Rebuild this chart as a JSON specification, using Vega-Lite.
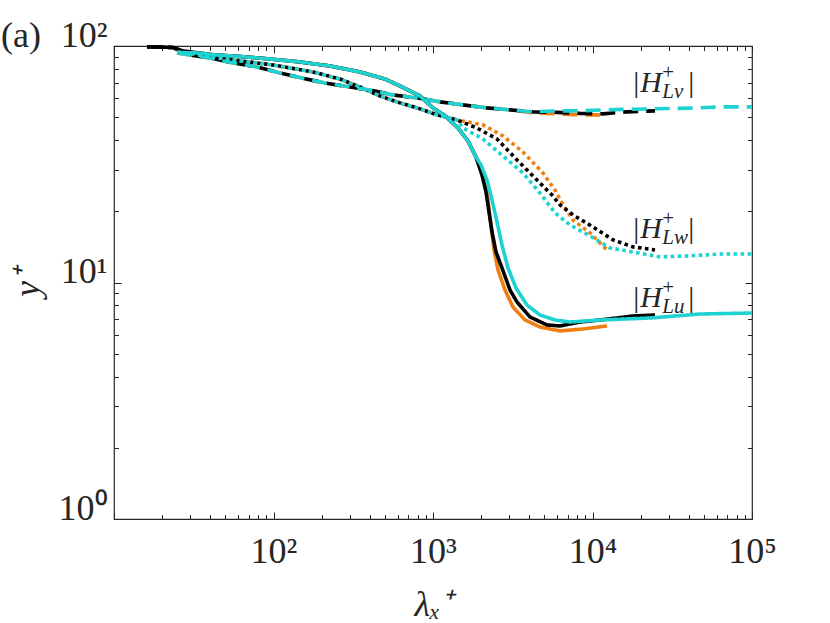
{
  "$schema": "https://vega.github.io/schema/vega-lite/v6.json",
  "width": 638,
  "height": 473,
  "autosize": {"type": "none"},
  "padding": {"left": 114, "top": 46, "right": 78, "bottom": 104},
  "title": {"text": "(a)", "anchor": "start", "frame": "group", "orient": "top", "baseline": "alphabetic", "offset": -66, "dx": -113, "font": "Liberation Serif", "fontSize": 36, "fontWeight": "normal", "color": "#262626"},
  "datasets": {
    "curves": [
      {"run": "orange", "comp": "u", "lam": 24.83, "yp": 93.87},
      {"run": "orange", "comp": "u", "lam": 34.61, "yp": 93.41},
      {"run": "orange", "comp": "u", "lam": 39.99, "yp": 92.06},
      {"run": "orange", "comp": "u", "lam": 61.66, "yp": 90.29},
      {"run": "orange", "comp": "u", "lam": 95.07, "yp": 88.13},
      {"run": "orange", "comp": "u", "lam": 146.6, "yp": 85.6},
      {"run": "orange", "comp": "u", "lam": 226.1, "yp": 82.33},
      {"run": "orange", "comp": "u", "lam": 348.6, "yp": 77.67},
      {"run": "orange", "comp": "u", "lam": 500, "yp": 72.5},
      {"run": "orange", "comp": "u", "lam": 621.1, "yp": 67.74},
      {"run": "orange", "comp": "u", "lam": 828.9, "yp": 61.46},
      {"run": "orange", "comp": "u", "lam": 1000, "yp": 54.76},
      {"run": "orange", "comp": "u", "lam": 1189, "yp": 50.66},
      {"run": "orange", "comp": "u", "lam": 1435, "yp": 44.98},
      {"run": "orange", "comp": "u", "lam": 1658, "yp": 39.67},
      {"run": "orange", "comp": "u", "lam": 1860, "yp": 33.93},
      {"run": "orange", "comp": "u", "lam": 1971, "yp": 31.4},
      {"run": "orange", "comp": "u", "lam": 2118, "yp": 27.13},
      {"run": "orange", "comp": "u", "lam": 2212, "yp": 22.33},
      {"run": "orange", "comp": "u", "lam": 2310, "yp": 17.51},
      {"run": "orange", "comp": "u", "lam": 2413, "yp": 13.73},
      {"run": "orange", "comp": "u", "lam": 2556, "yp": 11.29},
      {"run": "orange", "comp": "u", "lam": 2828, "yp": 9.296},
      {"run": "orange", "comp": "u", "lam": 3174, "yp": 7.873},
      {"run": "orange", "comp": "u", "lam": 3775, "yp": 6.942},
      {"run": "orange", "comp": "u", "lam": 4687, "yp": 6.486},
      {"run": "orange", "comp": "u", "lam": 6257, "yp": 6.239},
      {"run": "orange", "comp": "u", "lam": 8718, "yp": 6.361},
      {"run": "orange", "comp": "u", "lam": 12327, "yp": 6.55},

      {"run": "orange", "comp": "v", "lam": 24.83, "yp": 93.41},
      {"run": "orange", "comp": "v", "lam": 33.15, "yp": 90.73},
      {"run": "orange", "comp": "v", "lam": 39.99, "yp": 88.99},
      {"run": "orange", "comp": "v", "lam": 55.74, "yp": 84.77},
      {"run": "orange", "comp": "v", "lam": 78.81, "yp": 81.55},
      {"run": "orange", "comp": "v", "lam": 109.85, "yp": 76.92},
      {"run": "orange", "comp": "v", "lam": 150.9, "yp": 73.21},
      {"run": "orange", "comp": "v", "lam": 210.3, "yp": 69.74},
      {"run": "orange", "comp": "v", "lam": 301.8, "yp": 67.09},
      {"run": "orange", "comp": "v", "lam": 432.9, "yp": 64.52},
      {"run": "orange", "comp": "v", "lam": 561.4, "yp": 62.06},
      {"run": "orange", "comp": "v", "lam": 805.4, "yp": 60.28},
      {"run": "orange", "comp": "v", "lam": 1106, "yp": 58.03},
      {"run": "orange", "comp": "v", "lam": 1542, "yp": 56.37},
      {"run": "orange", "comp": "v", "lam": 2181, "yp": 54.76},
      {"run": "orange", "comp": "v", "lam": 3040, "yp": 53.71},
      {"run": "orange", "comp": "v", "lam": 4236, "yp": 52.16},
      {"run": "orange", "comp": "v", "lam": 5991, "yp": 51.66},
      {"run": "orange", "comp": "v", "lam": 8348, "yp": 51.16},
      {"run": "orange", "comp": "v", "lam": 11143, "yp": 51.16},

      {"run": "orange", "comp": "w", "lam": 24.83, "yp": 94.33},
      {"run": "orange", "comp": "w", "lam": 28.69, "yp": 93.41},
      {"run": "orange", "comp": "w", "lam": 39.99, "yp": 89.85},
      {"run": "orange", "comp": "w", "lam": 55.74, "yp": 87.28},
      {"run": "orange", "comp": "w", "lam": 99.3, "yp": 83.13},
      {"run": "orange", "comp": "w", "lam": 176.9, "yp": 77.67},
      {"run": "orange", "comp": "w", "lam": 261.2, "yp": 72.5},
      {"run": "orange", "comp": "w", "lam": 348.6, "yp": 67.09},
      {"run": "orange", "comp": "w", "lam": 465.3, "yp": 61.46},
      {"run": "orange", "comp": "w", "lam": 621.1, "yp": 57.47},
      {"run": "orange", "comp": "w", "lam": 828.9, "yp": 54.23},
      {"run": "orange", "comp": "w", "lam": 1059, "yp": 51.16},
      {"run": "orange", "comp": "w", "lam": 1414, "yp": 48.69},
      {"run": "orange", "comp": "w", "lam": 2058, "yp": 46.38},
      {"run": "orange", "comp": "w", "lam": 2747, "yp": 41.66},
      {"run": "orange", "comp": "w", "lam": 3667, "yp": 35.62},
      {"run": "orange", "comp": "w", "lam": 4894, "yp": 29.04},
      {"run": "orange", "comp": "w", "lam": 5820, "yp": 24.6},
      {"run": "orange", "comp": "w", "lam": 6440, "yp": 21.68},
      {"run": "orange", "comp": "w", "lam": 7546, "yp": 18.38},
      {"run": "orange", "comp": "w", "lam": 9646, "yp": 16.2},
      {"run": "orange", "comp": "w", "lam": 12327, "yp": 13.73},

      {"run": "black", "comp": "u", "lam": 16.1, "yp": 99.32},
      {"run": "black", "comp": "u", "lam": 23.44, "yp": 98.55},
      {"run": "black", "comp": "u", "lam": 27.08, "yp": 95.25},
      {"run": "black", "comp": "u", "lam": 34.61, "yp": 93.41},
      {"run": "black", "comp": "u", "lam": 39.99, "yp": 92.06},
      {"run": "black", "comp": "u", "lam": 61.66, "yp": 90.29},
      {"run": "black", "comp": "u", "lam": 95.07, "yp": 88.13},
      {"run": "black", "comp": "u", "lam": 146.6, "yp": 85.6},
      {"run": "black", "comp": "u", "lam": 226.1, "yp": 82.33},
      {"run": "black", "comp": "u", "lam": 348.6, "yp": 77.67},
      {"run": "black", "comp": "u", "lam": 500, "yp": 72.5},
      {"run": "black", "comp": "u", "lam": 621.1, "yp": 67.74},
      {"run": "black", "comp": "u", "lam": 828.9, "yp": 61.46},
      {"run": "black", "comp": "u", "lam": 1000, "yp": 54.76},
      {"run": "black", "comp": "u", "lam": 1189, "yp": 50.66},
      {"run": "black", "comp": "u", "lam": 1435, "yp": 44.98},
      {"run": "black", "comp": "u", "lam": 1658, "yp": 39.67},
      {"run": "black", "comp": "u", "lam": 1860, "yp": 33.93},
      {"run": "black", "comp": "u", "lam": 2029, "yp": 28.48},
      {"run": "black", "comp": "u", "lam": 2149, "yp": 24.13},
      {"run": "black", "comp": "u", "lam": 2244, "yp": 19.87},
      {"run": "black", "comp": "u", "lam": 2344, "yp": 16.36},
      {"run": "black", "comp": "u", "lam": 2483, "yp": 13.46},
      {"run": "black", "comp": "u", "lam": 2707, "yp": 11.52},
      {"run": "black", "comp": "u", "lam": 3040, "yp": 9.296},
      {"run": "black", "comp": "u", "lam": 3363, "yp": 8.265},
      {"run": "black", "comp": "u", "lam": 4057, "yp": 7.147},
      {"run": "black", "comp": "u", "lam": 5185, "yp": 6.614},
      {"run": "black", "comp": "u", "lam": 6257, "yp": 6.55},
      {"run": "black", "comp": "u", "lam": 8348, "yp": 6.808},
      {"run": "black", "comp": "u", "lam": 11143, "yp": 6.942},
      {"run": "black", "comp": "u", "lam": 17946, "yp": 7.217},
      {"run": "black", "comp": "u", "lam": 24653, "yp": 7.287},

      {"run": "black", "comp": "v", "lam": 16.1, "yp": 99.32},
      {"run": "black", "comp": "v", "lam": 23.44, "yp": 98.55},
      {"run": "black", "comp": "v", "lam": 29.96, "yp": 91.62},
      {"run": "black", "comp": "v", "lam": 39.99, "yp": 88.99},
      {"run": "black", "comp": "v", "lam": 55.74, "yp": 84.77},
      {"run": "black", "comp": "v", "lam": 78.81, "yp": 81.55},
      {"run": "black", "comp": "v", "lam": 109.85, "yp": 76.92},
      {"run": "black", "comp": "v", "lam": 150.9, "yp": 73.21},
      {"run": "black", "comp": "v", "lam": 210.3, "yp": 69.74},
      {"run": "black", "comp": "v", "lam": 301.8, "yp": 67.09},
      {"run": "black", "comp": "v", "lam": 432.9, "yp": 64.52},
      {"run": "black", "comp": "v", "lam": 561.4, "yp": 62.06},
      {"run": "black", "comp": "v", "lam": 805.4, "yp": 60.28},
      {"run": "black", "comp": "v", "lam": 1106, "yp": 58.03},
      {"run": "black", "comp": "v", "lam": 1542, "yp": 56.37},
      {"run": "black", "comp": "v", "lam": 2181, "yp": 54.76},
      {"run": "black", "comp": "v", "lam": 3040, "yp": 53.71},
      {"run": "black", "comp": "v", "lam": 4236, "yp": 52.68},
      {"run": "black", "comp": "v", "lam": 5991, "yp": 52.42},
      {"run": "black", "comp": "v", "lam": 8348, "yp": 51.91},
      {"run": "black", "comp": "v", "lam": 11636, "yp": 51.66},
      {"run": "black", "comp": "v", "lam": 16453, "yp": 52.68},
      {"run": "black", "comp": "v", "lam": 24653, "yp": 53.19},

      {"run": "black", "comp": "w", "lam": 16.1, "yp": 99.32},
      {"run": "black", "comp": "w", "lam": 23.44, "yp": 98.55},
      {"run": "black", "comp": "w", "lam": 28.69, "yp": 93.41},
      {"run": "black", "comp": "w", "lam": 39.99, "yp": 89.85},
      {"run": "black", "comp": "w", "lam": 55.74, "yp": 87.28},
      {"run": "black", "comp": "w", "lam": 99.3, "yp": 83.13},
      {"run": "black", "comp": "w", "lam": 176.9, "yp": 77.67},
      {"run": "black", "comp": "w", "lam": 261.2, "yp": 72.5},
      {"run": "black", "comp": "w", "lam": 348.6, "yp": 67.09},
      {"run": "black", "comp": "w", "lam": 465.3, "yp": 61.46},
      {"run": "black", "comp": "w", "lam": 621.1, "yp": 57.47},
      {"run": "black", "comp": "w", "lam": 828.9, "yp": 54.23},
      {"run": "black", "comp": "w", "lam": 1059, "yp": 51.16},
      {"run": "black", "comp": "w", "lam": 1414, "yp": 48.69},
      {"run": "black", "comp": "w", "lam": 1887, "yp": 44.98},
      {"run": "black", "comp": "w", "lam": 2519, "yp": 40.45},
      {"run": "black", "comp": "w", "lam": 3363, "yp": 32.96},
      {"run": "black", "comp": "w", "lam": 4487, "yp": 27.13},
      {"run": "black", "comp": "w", "lam": 5573, "yp": 23.44},
      {"run": "black", "comp": "w", "lam": 6257, "yp": 21.27},
      {"run": "black", "comp": "w", "lam": 7546, "yp": 19.3},
      {"run": "black", "comp": "w", "lam": 10070, "yp": 17.17},
      {"run": "black", "comp": "w", "lam": 13446, "yp": 15.14},
      {"run": "black", "comp": "w", "lam": 17946, "yp": 14.14},
      {"run": "black", "comp": "w", "lam": 24653, "yp": 13.73},

      {"run": "cyan", "comp": "u", "lam": 24.83, "yp": 93.87},
      {"run": "cyan", "comp": "u", "lam": 34.61, "yp": 93.41},
      {"run": "cyan", "comp": "u", "lam": 39.99, "yp": 92.06},
      {"run": "cyan", "comp": "u", "lam": 61.66, "yp": 90.29},
      {"run": "cyan", "comp": "u", "lam": 95.07, "yp": 88.13},
      {"run": "cyan", "comp": "u", "lam": 146.6, "yp": 85.6},
      {"run": "cyan", "comp": "u", "lam": 226.1, "yp": 82.33},
      {"run": "cyan", "comp": "u", "lam": 348.6, "yp": 77.67},
      {"run": "cyan", "comp": "u", "lam": 500, "yp": 72.5},
      {"run": "cyan", "comp": "u", "lam": 621.1, "yp": 67.74},
      {"run": "cyan", "comp": "u", "lam": 828.9, "yp": 61.46},
      {"run": "cyan", "comp": "u", "lam": 1000, "yp": 54.76},
      {"run": "cyan", "comp": "u", "lam": 1189, "yp": 50.66},
      {"run": "cyan", "comp": "u", "lam": 1435, "yp": 44.98},
      {"run": "cyan", "comp": "u", "lam": 1658, "yp": 39.67},
      {"run": "cyan", "comp": "u", "lam": 1860, "yp": 33.93},
      {"run": "cyan", "comp": "u", "lam": 2000, "yp": 31.4},
      {"run": "cyan", "comp": "u", "lam": 2181, "yp": 27.13},
      {"run": "cyan", "comp": "u", "lam": 2344, "yp": 22.33},
      {"run": "cyan", "comp": "u", "lam": 2519, "yp": 18.03},
      {"run": "cyan", "comp": "u", "lam": 2707, "yp": 14.42},
      {"run": "cyan", "comp": "u", "lam": 2953, "yp": 11.52},
      {"run": "cyan", "comp": "u", "lam": 3315, "yp": 9.479},
      {"run": "cyan", "comp": "u", "lam": 3885, "yp": 8.027},
      {"run": "cyan", "comp": "u", "lam": 4687, "yp": 7.287},
      {"run": "cyan", "comp": "u", "lam": 5820, "yp": 6.942},
      {"run": "cyan", "comp": "u", "lam": 7226, "yp": 6.808},
      {"run": "cyan", "comp": "u", "lam": 11143, "yp": 6.942},
      {"run": "cyan", "comp": "u", "lam": 22937, "yp": 7.077},
      {"run": "cyan", "comp": "u", "lam": 47206, "yp": 7.358},
      {"run": "cyan", "comp": "u", "lam": 100000, "yp": 7.43},

      {"run": "cyan", "comp": "v", "lam": 24.83, "yp": 93.41},
      {"run": "cyan", "comp": "v", "lam": 33.15, "yp": 90.73},
      {"run": "cyan", "comp": "v", "lam": 39.99, "yp": 88.99},
      {"run": "cyan", "comp": "v", "lam": 55.74, "yp": 84.77},
      {"run": "cyan", "comp": "v", "lam": 78.81, "yp": 81.55},
      {"run": "cyan", "comp": "v", "lam": 109.85, "yp": 76.92},
      {"run": "cyan", "comp": "v", "lam": 150.9, "yp": 73.21},
      {"run": "cyan", "comp": "v", "lam": 210.3, "yp": 69.74},
      {"run": "cyan", "comp": "v", "lam": 301.8, "yp": 67.09},
      {"run": "cyan", "comp": "v", "lam": 432.9, "yp": 64.52},
      {"run": "cyan", "comp": "v", "lam": 561.4, "yp": 62.06},
      {"run": "cyan", "comp": "v", "lam": 805.4, "yp": 60.28},
      {"run": "cyan", "comp": "v", "lam": 1106, "yp": 58.03},
      {"run": "cyan", "comp": "v", "lam": 1542, "yp": 56.37},
      {"run": "cyan", "comp": "v", "lam": 2181, "yp": 54.76},
      {"run": "cyan", "comp": "v", "lam": 3040, "yp": 53.71},
      {"run": "cyan", "comp": "v", "lam": 4236, "yp": 52.68},
      {"run": "cyan", "comp": "v", "lam": 5991, "yp": 53.19},
      {"run": "cyan", "comp": "v", "lam": 8348, "yp": 53.19},
      {"run": "cyan", "comp": "v", "lam": 11636, "yp": 53.71},
      {"run": "cyan", "comp": "v", "lam": 16453, "yp": 53.97},
      {"run": "cyan", "comp": "v", "lam": 23952, "yp": 54.23},
      {"run": "cyan", "comp": "v", "lam": 35377, "yp": 54.49},
      {"run": "cyan", "comp": "v", "lam": 47206, "yp": 54.76},
      {"run": "cyan", "comp": "v", "lam": 64858, "yp": 55.29},
      {"run": "cyan", "comp": "v", "lam": 100000, "yp": 55.29},

      {"run": "cyan", "comp": "w", "lam": 24.83, "yp": 94.33},
      {"run": "cyan", "comp": "w", "lam": 28.69, "yp": 93.41},
      {"run": "cyan", "comp": "w", "lam": 39.99, "yp": 89.85},
      {"run": "cyan", "comp": "w", "lam": 55.74, "yp": 87.28},
      {"run": "cyan", "comp": "w", "lam": 99.3, "yp": 83.13},
      {"run": "cyan", "comp": "w", "lam": 176.9, "yp": 77.67},
      {"run": "cyan", "comp": "w", "lam": 261.2, "yp": 72.5},
      {"run": "cyan", "comp": "w", "lam": 348.6, "yp": 67.09},
      {"run": "cyan", "comp": "w", "lam": 465.3, "yp": 61.46},
      {"run": "cyan", "comp": "w", "lam": 621.1, "yp": 57.47},
      {"run": "cyan", "comp": "w", "lam": 828.9, "yp": 54.23},
      {"run": "cyan", "comp": "w", "lam": 1059, "yp": 51.16},
      {"run": "cyan", "comp": "w", "lam": 1414, "yp": 48.69},
      {"run": "cyan", "comp": "w", "lam": 1542, "yp": 44.98},
      {"run": "cyan", "comp": "w", "lam": 2058, "yp": 40.45},
      {"run": "cyan", "comp": "w", "lam": 2747, "yp": 34.26},
      {"run": "cyan", "comp": "w", "lam": 3667, "yp": 29.04},
      {"run": "cyan", "comp": "w", "lam": 4687, "yp": 23.9},
      {"run": "cyan", "comp": "w", "lam": 5820, "yp": 19.68},
      {"run": "cyan", "comp": "w", "lam": 7226, "yp": 17.51},
      {"run": "cyan", "comp": "w", "lam": 9646, "yp": 15.74},
      {"run": "cyan", "comp": "w", "lam": 12874, "yp": 14.0},
      {"run": "cyan", "comp": "w", "lam": 17946, "yp": 13.46},
      {"run": "cyan", "comp": "w", "lam": 26501, "yp": 12.83},
      {"run": "cyan", "comp": "w", "lam": 39130, "yp": 12.95},
      {"run": "cyan", "comp": "w", "lam": 64858, "yp": 13.2},
      {"run": "cyan", "comp": "w", "lam": 100000, "yp": 13.2}
    ],
    "labels": [
      {"sub": "Lv", "lam": 18000, "yp": 63.9},
      {"sub": "Lw", "lam": 18000, "yp": 15.42},
      {"sub": "Lu", "lam": 18000, "yp": 7.873}
    ]
  },
  "resolve": {"axis": {"x": "independent", "y": "independent"}},
  "layer": [
    {
      "data": {"name": "curves"},
      "transform": [{"filter": "datum.run == 'orange'"}],
      "mark": {"type": "line", "color": "#EE7F10", "strokeWidth": 3.6, "strokeCap": "butt"},
      "encoding": {
        "x": {
          "field": "lam", "type": "quantitative",
          "scale": {"type": "log", "domain": [10, 100000], "nice": false},
          "axis": {
            "orient": "bottom", "values": [10, 100, 1000, 10000, 100000],
            "tickSize": -7, "labelPadding": 50, "labelBaseline": "alphabetic",
            "labelExpr": "datum.value == 100 ? '10²' : datum.value == 1000 ? '10³' : datum.value == 10000 ? '10⁴' : datum.value == 100000 ? '10⁵' : ''",
            "title": "λₓ⁺", "titleFontStyle": "italic", "titlePadding": 18
          }
        },
        "y": {
          "field": "yp", "type": "quantitative",
          "scale": {"type": "log", "domain": [1, 100], "nice": false},
          "axis": {
            "orient": "left", "values": [1, 10, 100],
            "tickSize": -7, "labelPadding": 14, "labelBaseline": "alphabetic",
            "labelExpr": "datum.value == 1 ? '10⁰' : datum.value == 10 ? '10¹' : '10²'",
            "title": "y⁺", "titleFontStyle": "italic", "titlePadding": 12
          }
        },
        "strokeDash": {
          "field": "comp", "type": "nominal", "legend": null,
          "scale": {"domain": ["u", "v", "w"], "range": [[1, 0], [15, 8], [3.6, 3.4]]}
        }
      }
    },
    {
      "data": {"name": "curves"},
      "transform": [{"filter": "datum.run == 'black'"}],
      "mark": {"type": "line", "color": "#000000", "strokeWidth": 3.6, "strokeCap": "butt"},
      "encoding": {
        "x": {
          "field": "lam", "type": "quantitative",
          "axis": {
            "orient": "bottom", "tickSize": -4.5, "labels": false, "title": null,
            "values": [20, 30, 40, 50, 60, 70, 80, 90, 200, 300, 400, 500, 600, 700, 800, 900, 2000, 3000, 4000, 5000, 6000, 7000, 8000, 9000, 20000, 30000, 40000, 50000, 60000, 70000, 80000, 90000]
          }
        },
        "y": {
          "field": "yp", "type": "quantitative",
          "axis": {
            "orient": "left", "tickSize": -4.5, "labels": false, "title": null,
            "values": [2, 3, 4, 5, 6, 7, 8, 9, 20, 30, 40, 50, 60, 70, 80, 90]
          }
        },
        "strokeDash": {
          "field": "comp", "type": "nominal", "legend": null,
          "scale": {"domain": ["u", "v", "w"], "range": [[1, 0], [15, 8], [3.6, 3.4]]}
        }
      }
    },
    {
      "data": {"name": "curves"},
      "transform": [{"filter": "datum.run == 'cyan'"}],
      "mark": {"type": "line", "color": "#1ED2D2", "strokeWidth": 3.6, "strokeCap": "butt"},
      "encoding": {
        "x": {
          "field": "lam", "type": "quantitative",
          "axis": {"orient": "top", "values": [10, 100, 1000, 10000, 100000], "tickSize": -7, "labels": false, "title": null}
        },
        "y": {
          "field": "yp", "type": "quantitative",
          "axis": {"orient": "right", "values": [1, 10, 100], "tickSize": -7, "labels": false, "title": null}
        },
        "strokeDash": {
          "field": "comp", "type": "nominal", "legend": null,
          "scale": {"domain": ["u", "v", "w"], "range": [[1, 0], [15, 8], [3.6, 3.4]]}
        }
      }
    },
    {
      "data": {"name": "labels"},
      "mark": {"type": "text", "text": "|", "align": "left", "baseline": "alphabetic", "font": "Liberation Serif", "fontSize": 30, "color": "#262626"},
      "encoding": {
        "x": {
          "field": "lam", "type": "quantitative",
          "axis": {
            "orient": "top", "tickSize": -4.5, "labels": false, "title": null,
            "values": [20, 30, 40, 50, 60, 70, 80, 90, 200, 300, 400, 500, 600, 700, 800, 900, 2000, 3000, 4000, 5000, 6000, 7000, 8000, 9000, 20000, 30000, 40000, 50000, 60000, 70000, 80000, 90000]
          }
        },
        "y": {
          "field": "yp", "type": "quantitative",
          "axis": {
            "orient": "right", "tickSize": -4.5, "labels": false, "title": null,
            "values": [2, 3, 4, 5, 6, 7, 8, 9, 20, 30, 40, 50, 60, 70, 80, 90]
          }
        }
      }
    },
    {
      "data": {"name": "labels"},
      "mark": {"type": "text", "text": "H", "fontStyle": "italic", "dx": 7, "align": "left", "baseline": "alphabetic", "font": "Liberation Serif", "fontSize": 30, "color": "#262626"},
      "encoding": {
        "x": {"field": "lam", "type": "quantitative", "axis": null},
        "y": {"field": "yp", "type": "quantitative", "axis": null}
      }
    },
    {
      "data": {"name": "labels"},
      "mark": {"type": "text", "text": "+", "dx": 29, "dy": -13, "align": "left", "baseline": "alphabetic", "font": "Liberation Serif", "fontSize": 21, "color": "#262626"},
      "encoding": {
        "x": {"field": "lam", "type": "quantitative", "axis": null},
        "y": {"field": "yp", "type": "quantitative", "axis": null}
      }
    },
    {
      "data": {"name": "labels"},
      "mark": {"type": "text", "fontStyle": "italic", "dx": 29, "dy": 6, "align": "left", "baseline": "alphabetic", "font": "Liberation Serif", "fontSize": 21, "color": "#262626"},
      "encoding": {
        "x": {"field": "lam", "type": "quantitative", "axis": null},
        "y": {"field": "yp", "type": "quantitative", "axis": null},
        "text": {"field": "sub"}
      }
    },
    {
      "data": {"name": "labels"},
      "mark": {"type": "text", "text": "|", "dx": 55, "align": "left", "baseline": "alphabetic", "font": "Liberation Serif", "fontSize": 30, "color": "#262626"},
      "encoding": {
        "x": {"field": "lam", "type": "quantitative", "axis": null},
        "y": {"field": "yp", "type": "quantitative", "axis": null}
      }
    }
  ],
  "config": {
    "view": {"stroke": "#262626", "strokeWidth": 1.2},
    "axis": {
      "grid": false, "domain": false,
      "tickColor": "#262626", "tickWidth": 1,
      "labelFont": "Liberation Serif", "labelFontSize": 36, "labelColor": "#262626",
      "labelFlush": false, "labelOverlap": false,
      "titleFont": "Liberation Serif", "titleFontSize": 36, "titleFontWeight": "normal", "titleColor": "#262626"
    }
  }
}
